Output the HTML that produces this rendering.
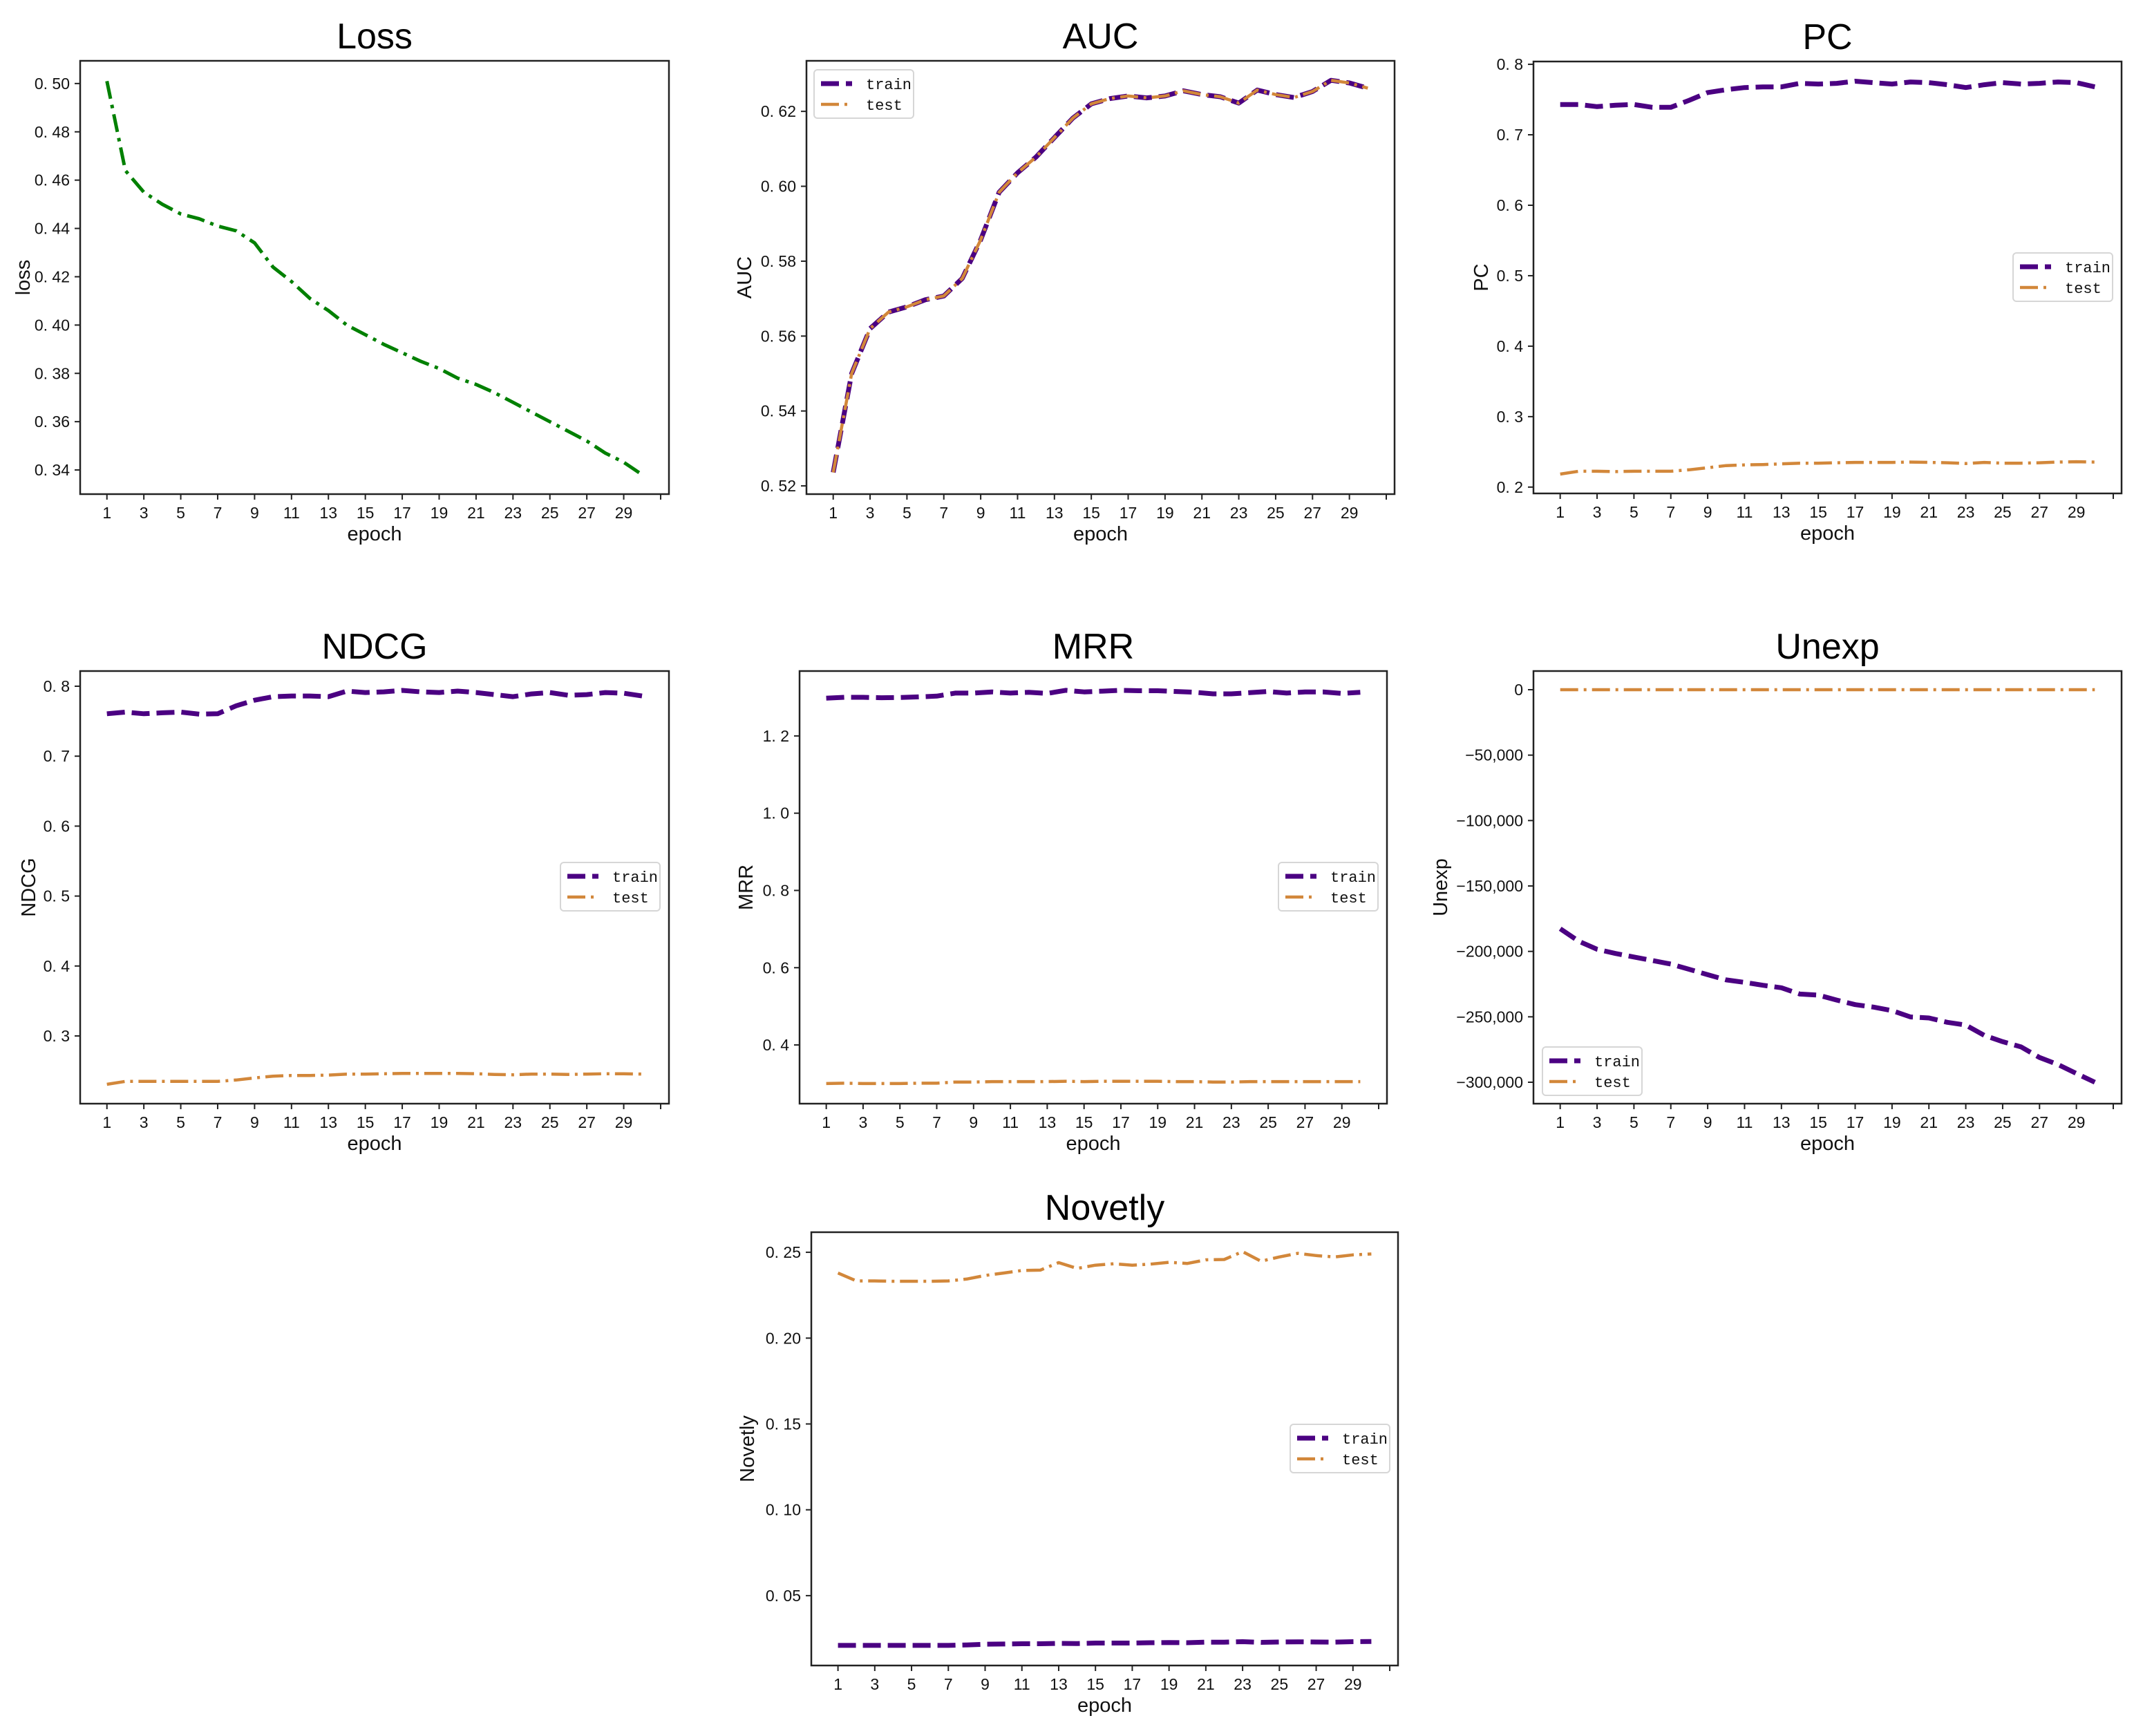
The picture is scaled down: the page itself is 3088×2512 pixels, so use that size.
<!DOCTYPE html>
<html><head><meta charset="utf-8">
<style>
html,body{margin:0;padding:0;background:#fff;}
svg{display:block;}
.tick{font-family:"WenQuanYi Zen Hei","Liberation Sans",sans-serif;font-size:23px;fill:#111;}
.title{font-family:"WenQuanYi Zen Hei","Liberation Sans",sans-serif;font-size:52px;fill:#000;}
.lab{font-family:"Liberation Sans","DejaVu Sans",sans-serif;font-size:29px;fill:#111;}
.leg{font-family:"Liberation Mono",monospace;font-size:22px;fill:#111;}
</style></head>
<body>
<svg id="fig" width="3088" height="2512" viewBox="0 0 3088 2512" xmlns="http://www.w3.org/2000/svg"></svg>
<script>
const epochs = Array.from({length:30},(_,i)=>i+1);
const xTicks = [1,3,5,7,9,11,13,15,17,19,21,23,25,27,29,31];
const lossVals = [0.501,0.464,0.455,0.450,0.446,0.444,0.441,0.439,0.434,0.424,0.418,0.411,0.406,0.400,0.396,0.392,0.3885,0.385,0.382,0.378,0.3754,0.372,0.368,0.364,0.360,0.356,0.352,0.347,0.3432,0.338];
const lossTicks = [0.34,0.36,0.38,0.40,0.42,0.44,0.46,0.48,0.50];
const aucTrain = [0.5236,0.550,0.562,0.5664,0.5678,0.5697,0.5707,0.5754,0.5857,0.5984,0.6036,0.6078,0.613,0.6182,0.622,0.6234,0.6241,0.6236,0.6241,0.6255,0.6245,0.6239,0.6222,0.6257,0.6245,0.6237,0.6253,0.6283,0.6276,0.6262];
const aucTest = [0.5236,0.550,0.562,0.5664,0.5678,0.5697,0.5707,0.5754,0.5857,0.5984,0.6036,0.6078,0.613,0.6182,0.622,0.6234,0.6241,0.6236,0.6241,0.6255,0.6245,0.6239,0.6222,0.6257,0.6245,0.6237,0.6253,0.6283,0.6276,0.6262];
const aucTicks = [0.52,0.54,0.56,0.58,0.60,0.62];
const pcTrain = [0.743,0.743,0.740,0.742,0.743,0.739,0.739,0.749,0.760,0.764,0.767,0.768,0.768,0.773,0.772,0.773,0.776,0.774,0.772,0.775,0.774,0.771,0.767,0.771,0.774,0.772,0.773,0.775,0.774,0.768];
const pcTest = [0.2185,0.2225,0.2225,0.222,0.2225,0.2225,0.2225,0.2245,0.2275,0.2305,0.2315,0.232,0.233,0.234,0.234,0.2345,0.235,0.235,0.235,0.2355,0.235,0.2345,0.2335,0.235,0.234,0.234,0.2345,0.2355,0.236,0.2355];
const pcTicks = [0.2,0.3,0.4,0.5,0.6,0.7,0.8];
const ndcgTrain = [0.7606,0.763,0.7606,0.762,0.763,0.760,0.7606,0.772,0.780,0.785,0.786,0.786,0.785,0.793,0.791,0.792,0.794,0.792,0.791,0.793,0.791,0.788,0.785,0.789,0.791,0.787,0.788,0.791,0.790,0.786];
const ndcgTest = [0.2309,0.235,0.235,0.235,0.235,0.235,0.235,0.237,0.240,0.2425,0.2435,0.2435,0.244,0.2455,0.2455,0.246,0.2465,0.2465,0.2465,0.2465,0.246,0.245,0.2445,0.2455,0.2455,0.245,0.2455,0.246,0.246,0.2455];
const ndcgTicks = [0.3,0.4,0.5,0.6,0.7,0.8];
const mrrTrain = [1.2977,1.300,1.300,1.299,1.2995,1.301,1.303,1.311,1.311,1.314,1.311,1.313,1.310,1.318,1.314,1.316,1.318,1.317,1.317,1.315,1.313,1.309,1.309,1.312,1.315,1.311,1.314,1.314,1.310,1.313];
const mrrTest = [0.300,0.301,0.300,0.300,0.300,0.301,0.301,0.304,0.304,0.305,0.305,0.305,0.305,0.306,0.305,0.306,0.306,0.306,0.306,0.305,0.305,0.304,0.304,0.305,0.305,0.305,0.305,0.305,0.305,0.305];
const mrrTicks = [0.4,0.6,0.8,1.0,1.2];
const unexpTrain = [-182700,-192200,-198400,-201600,-204300,-207000,-209700,-213700,-217800,-221800,-223700,-225900,-227800,-232600,-233400,-237200,-240700,-242600,-245300,-250100,-250900,-254200,-256300,-264200,-269000,-273000,-281100,-286500,-293300,-300000];
const unexpTest = [0,0,0,0,0,0,0,0,0,0,0,0,0,0,0,0,0,0,0,0,0,0,0,0,0,0,0,0,0,0];
const unexpTicks = [-300000,-250000,-200000,-150000,-100000,-50000,0];
const novTrain = [0.021,0.021,0.021,0.021,0.021,0.021,0.021,0.0213,0.0217,0.0218,0.022,0.022,0.0222,0.0221,0.0224,0.0224,0.0224,0.0226,0.0227,0.0226,0.0229,0.0229,0.0232,0.0228,0.023,0.0231,0.023,0.0229,0.0232,0.0233];
const novTest = [0.2379,0.2333,0.2333,0.2331,0.2331,0.2331,0.2333,0.2344,0.2365,0.2379,0.2394,0.2396,0.244,0.2406,0.2425,0.2433,0.2425,0.2431,0.2442,0.2435,0.2456,0.2458,0.2504,0.2448,0.2473,0.2494,0.2481,0.2473,0.2485,0.249];
const novTicks = [0.05,0.10,0.15,0.20,0.25];

const NS='http://www.w3.org/2000/svg';
const svg=document.getElementById('fig');
function mk(tag,attrs,parent){const e=document.createElementNS(NS,tag);for(const k in attrs)e.setAttribute(k,attrs[k]);(parent||svg).appendChild(e);return e;}

const TRAIN={color:'#4B0082',w:7,dash:'26 10'};
const TEST={color:'#D2873A',w:4.5,dash:'26 8 4 8'};
const GREEN={color:'#008000',w:5,dash:'26 9 5 9'};

function panel(p){
  const g=mk('g',{});
  
  
  const xmin=-0.45,xmax=31.45;
  const X=v=>p.l+(v-xmin)/(xmax-xmin)*(p.r-p.l);
  const Y=v=>p.b-(v-p.ymin)/(p.ymax-p.ymin)*(p.b-p.t);
  const cx=(p.l+p.r)/2;
  const t=mk('text',{x:cx,y:p.t-18,'text-anchor':'middle',class:'title'},g);
  t.textContent=p.title;
  
  
  p.series.forEach(s=>{
    const d=epochs.map((e,i)=>(i?'L':'M')+X(e).toFixed(1)+' '+Y(s.vals[i]).toFixed(1)).join(' ');
    const path=mk('path',{d:d,fill:'none',stroke:s.st.color,'stroke-width':s.st.w,'stroke-dasharray':s.st.dash,'stroke-linejoin':'round'},g);
    
    
  });
  const fr=mk('rect',{x:p.l,y:p.t,width:p.r-p.l,height:p.b-p.t,fill:'none',stroke:'#222','stroke-width':2.5},g);
  
  
  xTicks.forEach(v=>{
    mk('line',{x1:X(v),x2:X(v),y1:p.b,y2:p.b+8,stroke:'#222','stroke-width':2},g);
    if(v<=29){
      const tx=mk('text',{x:X(v),y:p.b+35,'text-anchor':'middle',class:'tick'},g);
      tx.textContent=v;
      
      
    }
  });
  p.yticks.forEach(v=>{
    mk('line',{x1:p.l-8,x2:p.l,y1:Y(v),y2:Y(v),stroke:'#222','stroke-width':2},g);
    const ty=mk('text',{x:p.l-15,y:Y(v)+8,'text-anchor':'end',class:'tick'},g);
    ty.textContent=p.fmt(v);
    
    
  });
  const xl=mk('text',{x:cx,y:p.b+67,'text-anchor':'middle',class:'lab'},g);
  xl.textContent='epoch';
  
  
  const ym=(p.t+p.b)/2;
  const yl=mk('text',{x:p.ylx,y:ym,'text-anchor':'middle',class:'lab',transform:'rotate(-90 '+p.ylx+' '+ym+')'},g);
  yl.textContent=p.ylabel;
  
  
  if(p.leg){
    const [lx,ly]=p.leg;
    const lg=mk('g',{},g);
    
    
    mk('rect',{x:lx,y:ly,width:144,height:70,rx:5,fill:'#fff','fill-opacity':0.85,stroke:'#d6d6d6','stroke-width':2},lg);
    [[TRAIN,'train',20],[TEST,'test',50]].forEach(([st,name,dy])=>{
      const le=mk('g',{},lg);
      
      
      mk('line',{x1:lx+10,x2:lx+55,y1:ly+dy,y2:ly+dy,stroke:st.color,'stroke-width':st.w,'stroke-dasharray':st.dash},le);
      const tt=mk('text',{x:lx+75,y:ly+dy+8,class:'leg'},le);
      tt.textContent=name;
    });
  }
}
const f2=v=>v.toFixed(2).replace('.','. ');
const f1=v=>v.toFixed(1).replace('.','. ');
const fk=v=>v===0?'0':(v<0?'\u2212':'')+Math.abs(v).toLocaleString('en-US');

panel({key:'loss',title:'Loss',ylabel:'loss',l:116,r:968,t:88,b:715,ymin:0.330,ymax:0.5094,yticks:lossTicks,fmt:f2,ylx:43,
  series:[{name:'loss',vals:lossVals,st:GREEN}]});
panel({key:'auc',title:'AUC',ylabel:'AUC',l:1167,r:2018,t:88,b:715,ymin:0.5178,ymax:0.6335,yticks:aucTicks,fmt:f2,ylx:1087,
  series:[{name:'train',vals:aucTrain,st:TRAIN},{name:'test',vals:aucTest,st:TEST}],leg:[1178,101]});
panel({key:'pc',title:'PC',ylabel:'PC',l:2219,r:3070,t:89,b:714,ymin:0.191,ymax:0.804,yticks:pcTicks,fmt:f1,ylx:2153,
  series:[{name:'train',vals:pcTrain,st:TRAIN},{name:'test',vals:pcTest,st:TEST}],leg:[2913,366]});
panel({key:'ndcg',title:'NDCG',ylabel:'NDCG',l:116,r:968,t:971,b:1597,ymin:0.2032,ymax:0.8217,yticks:ndcgTicks,fmt:f1,ylx:51,
  series:[{name:'train',vals:ndcgTrain,st:TRAIN},{name:'test',vals:ndcgTest,st:TEST}],leg:[811,1248]});
panel({key:'mrr',title:'MRR',ylabel:'MRR',l:1157,r:2007,t:971,b:1597,ymin:0.248,ymax:1.368,yticks:mrrTicks,fmt:f1,ylx:1089,
  series:[{name:'train',vals:mrrTrain,st:TRAIN},{name:'test',vals:mrrTest,st:TEST}],leg:[1850,1248]});
panel({key:'unexp',title:'Unexp',ylabel:'Unexp',l:2219,r:3070,t:971,b:1597,ymin:-316370,ymax:14260,yticks:unexpTicks,fmt:fk,ylx:2094,
  series:[{name:'train',vals:unexpTrain,st:TRAIN},{name:'test',vals:unexpTest,st:TEST}],leg:[2232,1515]});
panel({key:'novelty',title:'Novetly',ylabel:'Novetly',l:1174,r:2023,t:1783,b:2410,ymin:0.0093,ymax:0.2617,yticks:novTicks,fmt:f2,ylx:1091,
  series:[{name:'train',vals:novTrain,st:TRAIN},{name:'test',vals:novTest,st:TEST}],leg:[1867,2061]});
</script>
</body></html>
